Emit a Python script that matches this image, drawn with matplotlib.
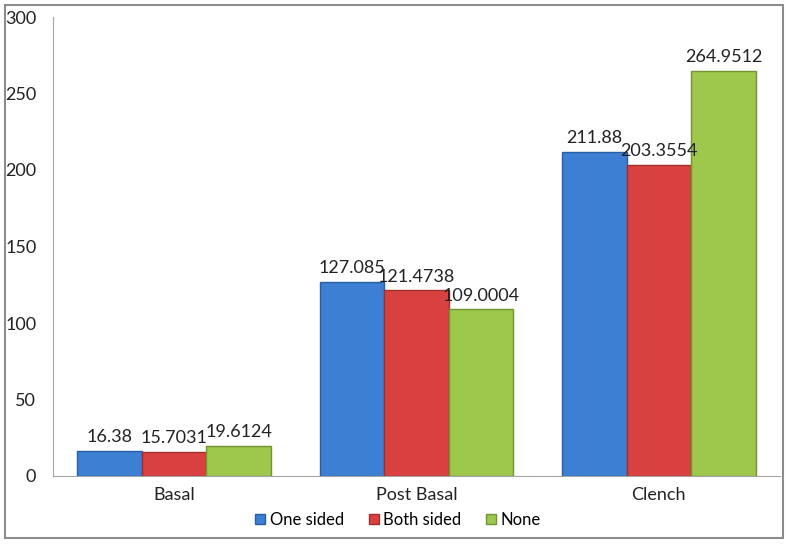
import matplotlib
matplotlib.use("Agg")
import matplotlib.pyplot as plt
from matplotlib.patches import Rectangle
import numpy as np

categories = ["Basal", "Post Basal", "Clench"]
series_names = ["One sided", "Both sided", "None"]
one_sided = [16.38, 127.085, 211.88]
both_sided = [15.7031, 121.4738, 203.3554]
none_vals = [19.6124, 109.0004, 264.9512]
value_labels = [
    ["16.38", "127.085", "211.88"],
    ["15.7031", "121.4738", "203.3554"],
    ["19.6124", "109.0004", "264.9512"],
]
yticks = [0, 50, 100, 150, 200, 250, 300]

colors = ["#3D7FD3", "#D8413F", "#9DC84B"]
edges = ["#2A5E9E", "#A02E2C", "#6F9434"]

plt.rcParams["font.family"] = ["Lato", "DejaVu Sans"]

W, H = 786, 545
fig = plt.figure(figsize=(W / 100, H / 100), dpi=100)
fig.patch.set_facecolor("white")

# outer border
fig.add_artist(Rectangle((5 / W, 7 / H), 778 / W, 533 / H, transform=fig.transFigure,
                         fill=False, edgecolor="#8c8c8c", linewidth=1.5))

ax = fig.add_axes([53 / W, (H - 476) / H, 727 / W, (476 - 17) / H])
x = np.arange(len(categories))
bw = 0.8 / 3
data = [one_sided, both_sided, none_vals]
for i, vals in enumerate(data):
    pos = x + (i - 1) * bw
    ax.bar(pos, vals, width=bw, color=colors[i], edgecolor=edges[i], linewidth=1.0,
           label=series_names[i], zorder=2)
    for p, v, lab in zip(pos, vals, value_labels[i]):
        ax.annotate(lab, (p, v), xytext=(0, 4), textcoords="offset points",
                    ha="center", va="bottom", fontsize=13, color="#222222")

ax.set_xlim(-0.5, 2.5)
ax.set_ylim(0, 300)
ax.set_yticks(yticks)
ax.set_yticklabels([str(t) for t in yticks], fontsize=13, color="#222222")
ax.set_xticks(x)
ax.set_xticklabels(categories, fontsize=13, color="#222222")
ax.tick_params(axis="y", length=0, pad=12)
ax.tick_params(axis="x", length=0, pad=8)
for s in ["top", "right"]:
    ax.spines[s].set_visible(False)
ax.spines["left"].set_color("#a6a6a6")
ax.spines["bottom"].set_color("#a6a6a6")
ax.set_facecolor("white")

leg = fig.legend(loc="center", bbox_to_anchor=(398 / W, (H - 520) / H), ncol=3,
                 frameon=False, fontsize=12, handlelength=0.6, handleheight=0.6,
                 handletextpad=0.25, columnspacing=1.5, borderaxespad=0)

fig.savefig("out.png", dpi=100)
